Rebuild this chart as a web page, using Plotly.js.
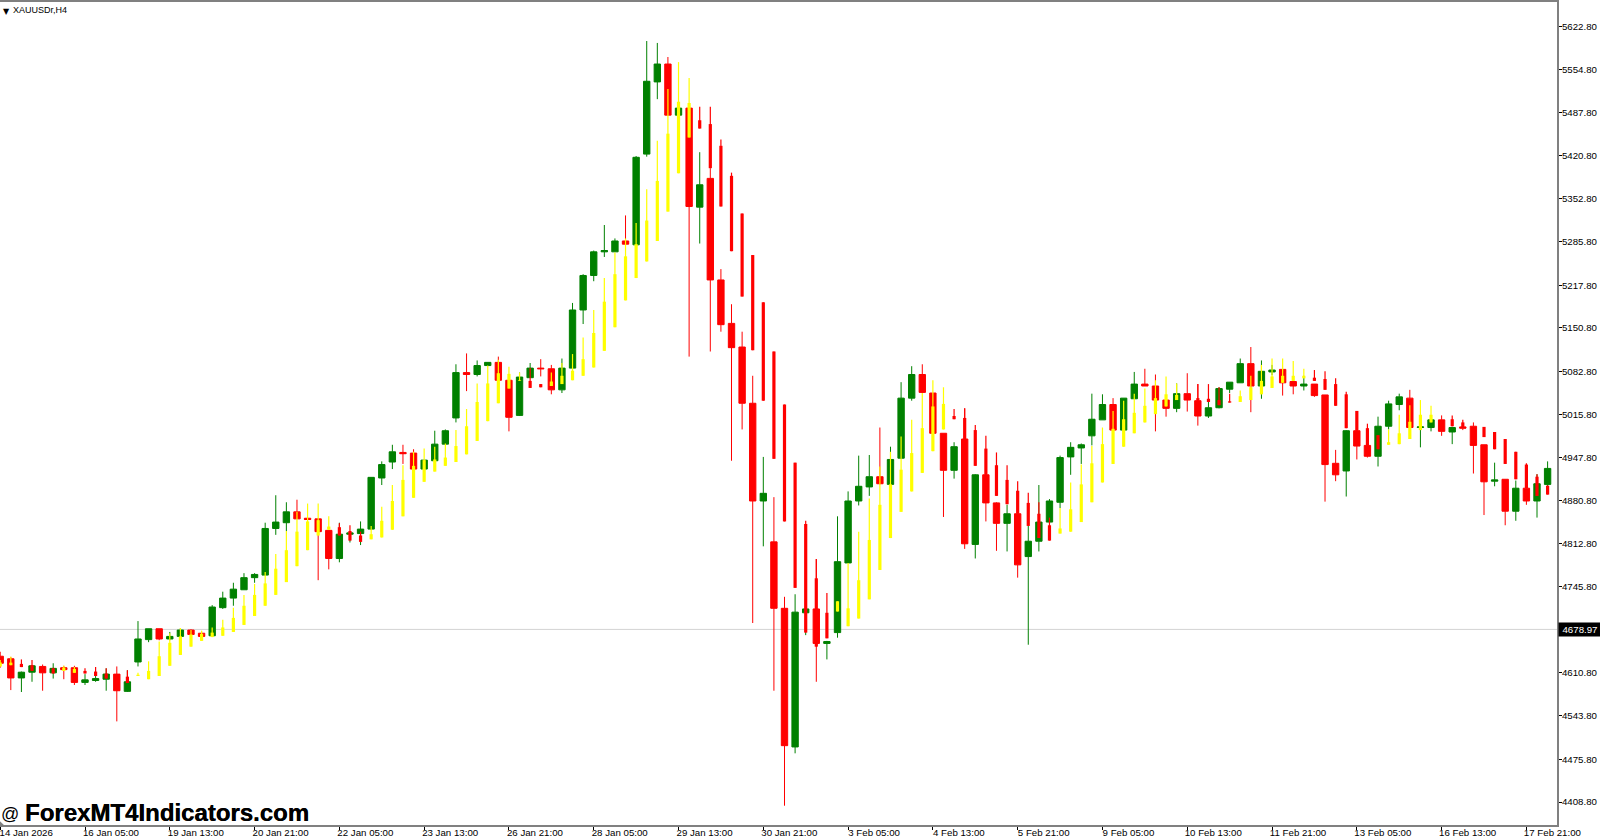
<!DOCTYPE html>
<html>
<head>
<meta charset="utf-8">
<script src="https://cdn.plot.ly/plotly-3.0.1.min.js"></script>
<style>
  html, body { margin: 0; padding: 0; background: #fff; }
  #chart { width: 1600px; height: 840px; }
</style>
</head>
<body>
<div id="chart"></div>
<script>
// XAUUSDr H4 bars
const open = [4637,4633,4603,4612,4621,4611,4619,4619,4596,4599,4601,4609,4582,4628,4663,4680,4664,4668,4678,4673,4669,4713,4728,4741,4760,4764,4837,4846,4863,4853,4852,4834,4790,4828,4829,4836,4916,4941,4956,4955,4930,4943,4969,5010,5081,5078,5092,5097,5069,5014,5073,5088,5087,5054,5088,5179,5233,5270,5270,5287,5281,5423,5536,5564,5484,5495,5340,5385,5226,5158,5121,5033,4880,4816,4712,4495,4705,4711,4657,4674,4783,4880,4902,4918,4906,4947,5041,5078,5049,4986,4928,4977,4812,4921,4877,4845,4860,4793,4817,4847,4878,4949,4963,4982,5007,5031,4991,5040,5063,5060,5038,5025,5048,5037,5013,5026,5055,5065,5095,5060,5082,5086,5067,5060,5063,5046,4939,4927,4990,4967,4950,4997,5031,5041,4995,4995,5007,4988,4996,4997,4968,4911,4914,4864,4900,4880,4906];
const high = [4644,4636,4613,4622,4624,4626,4622,4622,4609,4606,4618,4621,4615,4692,4680,4680,4675,4681,4679,4676,4717,4738,4752,4767,4767,4846,4889,4878,4882,4854,4852,4834,4846,4833,4848,4917,4942,4968,4968,4961,4944,4990,4992,5094,5111,5100,5097,5106,5069,5081,5096,5102,5093,5103,5190,5235,5272,5312,5291,5327,5420,5600,5597,5575,5495,5495,5426,5401,5243,5188,5145,5076,4949,4886,4730,4734,4712,4789,4661,4856,4895,4951,4952,4995,4965,5066,5091,5094,5049,4986,4972,5025,4922,4922,4878,4874,4860,4841,4905,4883,4951,4972,4970,5048,5047,5041,5041,5082,5087,5078,5038,5064,5080,5063,5037,5058,5066,5103,5121,5100,5093,5086,5068,5076,5063,5046,4960,4991,4990,4968,5012,5037,5048,5054,4996,5007,5014,4996,4997,5003,4968,4940,4914,4912,4900,4922,4942];
const low = [4619,4584,4581,4597,4583,4602,4601,4592,4592,4597,4583,4535,4581,4621,4659,4662,4662,4667,4670,4667,4667,4711,4716,4741,4752,4764,4827,4833,4852,4850,4756,4773,4784,4815,4811,4835,4905,4930,4938,4930,4929,4943,4968,5003,5052,5075,5091,5069,4989,5013,5073,5075,5047,5049,5087,5157,5224,5262,5270,5282,5279,5419,5509,5484,5483,5106,5283,5114,5145,4943,4992,4689,4809,4583,4403,4485,4670,4597,4632,4666,4783,4873,4888,4906,4906,4946,5037,5049,4986,4855,4915,4805,4790,4848,4802,4801,4760,4655,4801,4846,4869,4921,4938,4967,5007,4991,4991,5040,5060,4989,5012,5019,5020,4998,5010,5025,5049,5065,5019,5040,5077,5045,5047,5053,5043,4879,4911,4887,4945,4948,4934,4992,5022,4995,4964,4989,4982,4969,4991,4923,4858,4903,4842,4849,4874,4854,4903];
const close = [4626,4603,4612,4622,4611,4618,4616,4596,4600,4602,4609,4583,4597,4664,4680,4664,4668,4678,4671,4668,4714,4728,4742,4760,4765,4837,4847,4863,4852,4851,4832,4790,4828,4830,4836,4917,4937,4957,4954,4930,4944,4969,4990,5081,5078,5092,5097,5069,5011,5074,5088,5087,5054,5088,5179,5233,5270,5272,5287,5282,5418,5537,5564,5484,5495,5341,5375,5226,5156,5120,5033,4880,4892,4712,4497,4706,4711,4657,4660,4785,4880,4903,4918,4907,4945,5041,5078,5050,4986,4928,4965,4813,4921,4877,4845,4860,4780,4817,4847,4880,4948,4964,4968,5008,5031,4991,5041,5063,5060,5038,5025,5048,5038,5013,5026,5056,5066,5095,5060,5083,5085,5065,5060,5063,5045,4937,4921,4990,4966,4950,4997,5032,5043,4995,4996,5007,4989,4995,4994,4967,4910,4913,4864,4900,4880,4907,4931];

// overlay indicator: wick top, body top and bottom, colour per bar (null where hidden by the candle)
const sigHigh = [4631,4636,4632,4631,null,4619,4622,4620,4618,4620,4618,null,4615,4611,4629,4660,4673,4681,4678,4677,4682,4694,4713,4733,4750,4769,4797,4833,4863,4876,4876,4856,4845,4842,4832,4841,4871,4905,4936,4957,4962,4965,4970,4991,5024,5064,5092,5101,5090,5081,5088,5063,5081,5096,5110,5136,5179,5229,5269,5291,5315,5368,5444,5525,5567,5542,5497,5497,5446,5394,5330,5265,5191,5114,5031,4940,4849,4789,4736,4723,4783,4832,4884,4934,4957,4981,5007,5049,5069,5058,5024,5025,4999,4982,4956,4936,4911,4893,4878,4854,4869,4909,4937,4966,4995,5021,5037,5048,5056,5069,5075,5064,null,5063,5063,5058,5048,5053,5076,5093,5103,5103,5099,5087,5085,5083,5072,5051,5021,5001,4983,4992,5015,5030,5038,5029,null,5014,5007,null,4996,4988,4977,4957,4939,4922,4904];
const sigTop = [4627,4627,4625,4623,null,4618,4619,4617,4614,4613,4610,null,4605,4608,4614,4637,4658,4668,4671,4672,4674,4682,4697,4716,4733,4751,4774,4803,4832,4848,4850,4840,4839,4833,4826,4828,4849,4880,4913,4935,4944,4945,4948,4966,4997,5035,5064,5080,5079,5069,5068,5063,5067,5076,5084,5102,5143,5192,5235,5263,5282,5319,5381,5455,5505,5503,5476,5470,5436,5389,5330,5265,5191,5114,5031,4940,4844,4759,4705,4723,4712,4756,4819,4874,4906,4929,4955,4994,5028,5032,5013,5010,4991,4962,4936,4913,4896,4877,4860,4842,4837,4867,4906,4939,4969,4993,5008,5018,5029,5041,5047,5046,null,5041,5040,5038,5036,5044,5058,5068,5075,5076,5076,5076,5073,5071,5063,5047,5021,4994,4983,4972,4986,5004,5015,5015,null,5008,5003,null,4996,4988,4977,4957,4937,4918,4904];
const sigBottom = [4621,4623,4620,4614,null,4610,4614,4611,4610,4606,4602,null,4595,4606,4601,4606,4622,4639,4652,4661,4667,4669,4675,4686,4700,4716,4733,4753,4778,4803,4826,4835,4826,4818,4816,4820,4823,4835,4856,4885,4910,4926,4935,4941,4953,4974,5005,5033,5056,5068,5057,5058,5060,5063,5069,5076,5089,5115,5152,5194,5229,5255,5287,5333,5393,5449,5463,5401,5341,5271,5200,5116,5037,4946,4848,4744,4674,4652,4665,4707,4684,4696,4726,4772,4822,4863,4895,4924,4958,4992,5008,4977,4935,4921,4888,4875,4860,4841,4822,4818,4829,4832,4847,4878,4909,4938,4965,4986,5003,5016,5028,5038,null,5037,5035,5030,5034,5035,5038,5047,5057,5065,5068,5072,5068,5054,5029,4994,4990,4967,4961,4968,4969,4977,4991,5003,null,4997,4995,null,4980,4961,4938,4914,4900,4888,4890];
const sigColor = 'YYRRRRYYRRRRRYYYYYYYYYYYYYYYYYYYRRRYYYYYYYYYYYYYYYRRYYYYYYYYYYYYYYRRRRRRRRRRRRRYYYYYYYYYYYRRRRRRRRRRYYYYYYYYYYYYRRRRRYYYYYYYRRRRRRRYYYYYRRRRRRRRRRR';

const priceTicks = [5622.8,5554.8,5487.8,5420.8,5352.8,5285.8,5217.8,5150.8,5082.8,5015.8,4947.8,4880.8,4812.8,4745.8,4610.8,4543.8,4475.8,4408.8];
const timeLabels = ['14 Jan 2026','16 Jan 05:00','19 Jan 13:00','20 Jan 21:00','22 Jan 05:00','23 Jan 13:00','26 Jan 21:00','28 Jan 05:00','29 Jan 13:00','30 Jan 21:00','3 Feb 05:00','4 Feb 13:00','5 Feb 21:00','9 Feb 05:00','10 Feb 13:00','11 Feb 21:00','13 Feb 05:00','16 Feb 13:00','17 Feb 21:00'];
const lastPrice = 4678.97;

const GREEN = '#008000', RED = '#ff0000', YELLOW = '#ffff00';
const bars = open.map((_, i) => i);

// One line trace per colour, segments split by nulls
function sigTrace(code, color, width, fromArr, toArr) {
    const x = [], y = [];
    bars.forEach(i => {
        if (sigColor[i] !== code || fromArr[i] === null) return;
        x.push(i, i, null);
        y.push(fromArr[i], toArr[i], null);
    });
    return { type: 'scatter', mode: 'lines', x, y, line: { color, width }, hoverinfo: 'skip', showlegend: false };
}

const data = [
    {
        type: 'candlestick', x: bars, open, high, low, close,
        increasing: { line: { color: GREEN, width: 1 }, fillcolor: GREEN },
        decreasing: { line: { color: RED, width: 1 }, fillcolor: RED },
        whiskerwidth: 0, hoverinfo: 'skip', showlegend: false
    },
    sigTrace('Y', YELLOW, 1.2, sigHigh, sigBottom),
    sigTrace('R', RED, 1.2, sigHigh, sigBottom),
    sigTrace('Y', YELLOW, 3.2, sigTop, sigBottom),
    sigTrace('R', RED, 3.2, sigTop, sigBottom)
];

const axisFont = { family: '"Liberation Sans", Arial, sans-serif', size: 9.7, color: '#000' };
const markFont = '"Liberation Sans", Arial, sans-serif';

const layout = {
    width: 1600, height: 840,
    margin: { l: 0, r: 43, t: 2, b: 15, pad: 0 },
    paper_bgcolor: '#fff', plot_bgcolor: '#fff',
    showlegend: false,
    boxgap: 0.2, boxgroupgap: 0.25,
    xaxis: {
        type: 'linear', range: [-0.02, 146.887], rangeslider: { visible: false },
        tickmode: 'array', tickvals: timeLabels.map((_, i) => i * 8), ticktext: timeLabels,
        ticks: 'outside', ticklen: 3, tickcolor: '#000', tickfont: axisFont,
        ticklabelshift: 26, ticklabelstandoff: -6, ticklabeloverflow: 'allow',
        showgrid: false, zeroline: false,
        showline: true, linecolor: '#808080', linewidth: 2, mirror: true
    },
    yaxis: {
        side: 'right', range: [4372.8, 5661.1],
        tickmode: 'array', tickvals: priceTicks, ticktext: priceTicks.map(v => v.toFixed(2)),
        ticks: 'outside', ticklen: 3, tickcolor: '#000', tickfont: axisFont,
        ticklabelstandoff: -2,
        showgrid: false, zeroline: false,
        showline: true, linecolor: '#808080', linewidth: 2
    },
    shapes: [
        { type: 'line', layer: 'below', xref: 'paper', x0: 0, x1: 1, yref: 'y', y0: lastPrice, y1: lastPrice, line: { color: '#d3d3d3', width: 1 } },
        { type: 'path', xref: 'paper', yref: 'paper', path: 'M 0 0 L 0.0025 0 L 0 0.0045 Z', fillcolor: '#808080', line: { width: 0 } }
    ],
    annotations: [
        {
            xref: 'paper', yref: 'y', x: 1, y: lastPrice, xanchor: 'left', yanchor: 'middle', xshift: 1,
            text: lastPrice.toFixed(2), showarrow: false, bgcolor: '#000', width: 42, height: 13, borderpad: 0,
            font: { family: axisFont.family, size: 9.7, color: '#fff' }
        },
        {
            xref: 'paper', yref: 'paper', x: 0, y: 1, xanchor: 'left', yanchor: 'top', xshift: 1, yshift: -3,
            text: '▼', showarrow: false, font: { family: 'DejaVu Sans', size: 8, color: '#000' }
        },
        {
            xref: 'paper', yref: 'paper', x: 0, y: 1, xanchor: 'left', yanchor: 'top', xshift: 11, yshift: -1,
            text: 'XAUUSDr,H4', showarrow: false, font: { family: markFont, size: 9, color: '#000' }
        },
        {
            xref: 'paper', yref: 'paper', x: 0, y: 0, xanchor: 'left', yanchor: 'bottom', yshift: -1, xshift: -1,
            text: '@', showarrow: false, font: { family: markFont, size: 18, color: '#000' }
        },
        {
            xref: 'paper', yref: 'paper', x: 0, y: 0, xanchor: 'left', yanchor: 'bottom', yshift: -3, xshift: 23,
            text: '<b>ForexMT4Indicators.com</b>', showarrow: false,
            font: { family: markFont, size: 24, color: '#000', shadow: '0.3px 0 0 #000' }
        }
    ]
};

Plotly.newPlot('chart', data, layout, { staticPlot: true, displayModeBar: false });
</script>
</body>
</html>
